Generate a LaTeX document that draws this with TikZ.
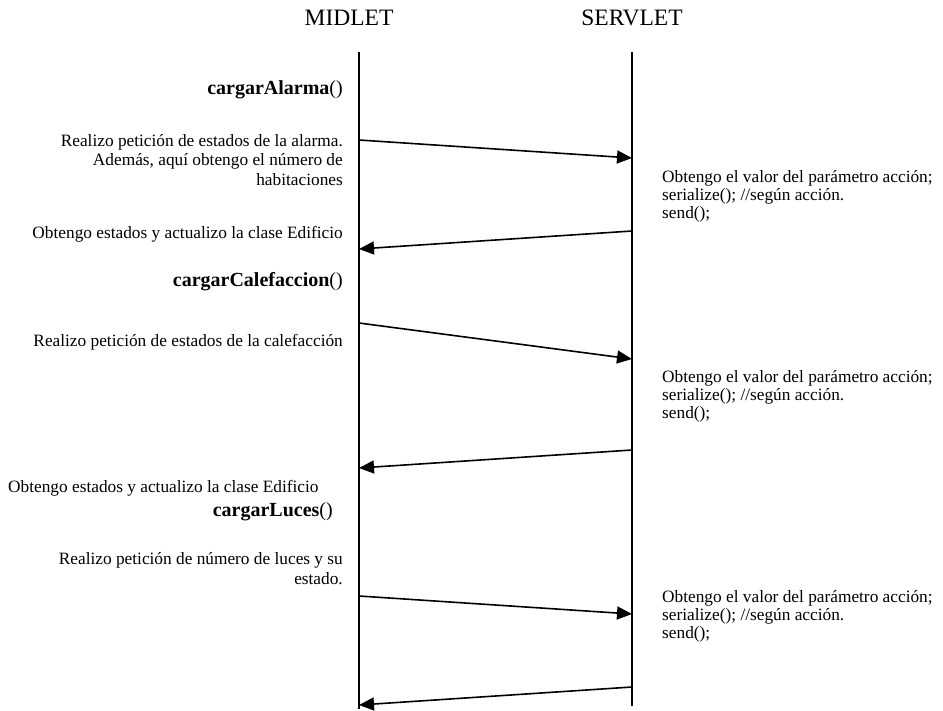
\documentclass[tikz,border=0pt]{standalone}
\usepackage{fontspec}
\setmainfont{Liberation Serif}
\usetikzlibrary{arrows.meta, positioning}
\tikzset{
  titulo/.style={font=\fontsize{23.5}{26}\selectfont, inner sep=0pt, anchor=base},
  metodo/.style={font=\fontsize{20}{22}\selectfont, inner sep=0pt, anchor=base east},
  texto/.style={font=\fontsize{17.3}{19.5}\selectfont, inner sep=0pt, align=right, anchor=base east},
  nota/.style={font=\fontsize{17.3}{18}\selectfont, inner sep=0pt, align=left, anchor=base west},
  vida/.style={line width=1.1pt},
  vidagruesa/.style={line width=2pt},
  mensaje/.style={-{Triangle[length=15pt, width=13pt]}, line width=1.6pt}
}

\begin{document}
\begin{tikzpicture}[x=1pt, y=-1pt]
  \useasboundingbox (0,0) rectangle (943,710);
  \node[titulo] (midlet)  at (349,25) {MIDLET};
  \node[titulo] (servlet) at (632,25) {SERVLET};

  \coordinate (mtop) at (359,52);
  \coordinate (mbot) at (359,709);
  \coordinate (stop) at (632,52);
  \coordinate (sbot) at (632,706);
  \draw[vida] (mtop) -- (mbot);
  \draw[vida, line width=1.6pt] (stop) -- (sbot);
  \foreach \a/\b in {197/214, 378/469, 596/709}
    \draw[vidagruesa] (359,\a) -- (359,\b);

  \node[metodo] (alarma) at (343,94) {\textbf{cargarAlarma}()};
  \node[texto] (petalarma) at (343,185)
    {Realizo petición de estados de la alarma.\\
     Además, aquí obtengo el número de\\
     habitaciones};
  \node[texto] (actalarma) at (343,238) {Obtengo estados y actualizo la clase Edificio};
  \node[metodo] (calef) at (343,286) {\textbf{cargarCalefaccion}()};
  \node[texto] (petcalef) at (343,346) {Realizo petición de estados de la calefacción};
  \node[texto, anchor=base west] (actcalef) at (8,492) {Obtengo estados y actualizo la clase Edificio};
  \node[metodo] (luces) at (333,516) {\textbf{cargarLuces}()};
  \node[texto] (petluces) at (343,584)
    {Realizo petición de número de luces y su\\
     estado.};

  \foreach \n/\y in {1/218, 2/418, 3/638}
    \node[nota] (nota\n) at (662,\y)
      {Obtengo el valor del parámetro acción;\\
       serialize(); //según acción.\\
       send();};

  \coordinate (m1) at (359,140); \coordinate (s1) at (632,158);
  \coordinate (s2) at (632,231); \coordinate (m2) at (359,249);
  \coordinate (m3) at (359,323); \coordinate (s3) at (632,359);
  \coordinate (s4) at (632,450); \coordinate (m4) at (359,468);
  \coordinate (m5) at (359,596); \coordinate (s5) at (632,614);
  \coordinate (s6) at (632,687); \coordinate (m6) at (359,705);
  \draw[mensaje] (m1) -- (s1);
  \draw[mensaje] (s2) -- (m2);
  \draw[mensaje] (m3) -- (s3);
  \draw[mensaje] (s4) -- (m4);
  \draw[mensaje] (m5) -- (s5);
  \draw[mensaje] (s6) -- (m6);
\end{tikzpicture}
\end{document}
